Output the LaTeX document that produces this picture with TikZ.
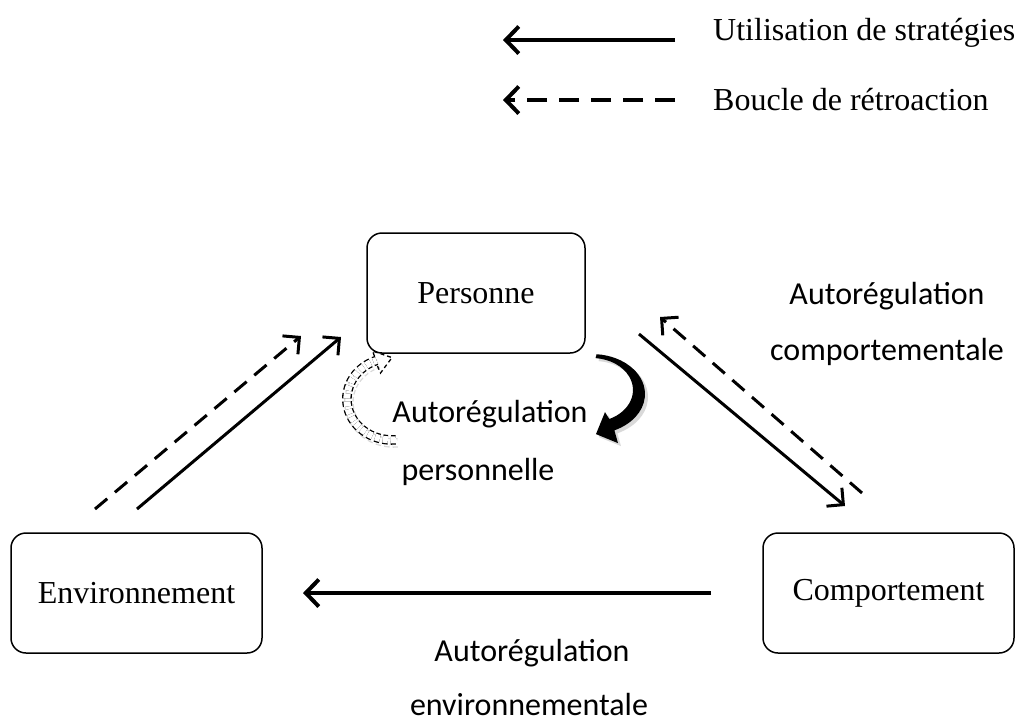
\documentclass[tikz,border=0pt]{standalone}
\usepackage{fontspec}
\setmainfont{Liberation Serif}
\newfontfamily\calib{Carlito}
\usetikzlibrary{arrows.meta}
\begin{document}
\begin{tikzpicture}[x=1pt,y=-1pt,
  boxnode/.style={draw,line width=1.5pt,rounded corners=15pt,minimum width=#1,minimum height=120pt,inner sep=0pt,font=\fontsize{32}{38}\selectfont},
  lbl/.style={font=\calib\fontsize{32}{38}\selectfont,inner sep=0pt},
  leg/.style={font=\fontsize{32}{38}\selectfont,anchor=west,inner sep=0pt},
  barb/.style={-{Straight Barb[length=13pt,width=27pt]}},
  solidarr/.style={-{Straight Barb[length=12pt,width=24pt]},line width=3pt},
  dasharr/.style={-{Straight Barb[length=12pt,width=24pt]},line width=3pt,dash pattern=on 16pt off 10pt},
]
\useasboundingbox (0,0) rectangle (1019,724);

% legend
\coordinate (l1a) at (675,40); \coordinate (l1b) at (503,40);
\coordinate (l2a) at (675,100); \coordinate (l2b) at (503,100);
\draw[barb,line width=4pt] (l1a) -- (l1b);
\draw[barb,line width=4pt,dash pattern=on 20pt off 12pt] (l2a) -- (l2b);
\node[leg] (t1) at (713,33) {Utilisation de stratégies};
\node[leg] (t2) at (713,100) {Boucle de rétroaction};

% boxes
\node[boxnode=218pt] (pers) at (476,293) {Personne};
\node[boxnode=251pt] (env) at (136.5,593) {Environnement};
\node[boxnode=251pt] (comp) at (888.5,593) {Comportement};

% labels
\node[lbl] (a1) at (887,296) {Autorégulation};
\node[lbl] (a2) at (887,352) {comportementale};
\node[lbl] (b1) at (490,414) {Autorégulation};
\node[lbl] (b2) at (478,472) {personnelle};
\node[lbl,anchor=base] (c1) at (532,661) {Autorégulation};
\node[lbl,anchor=base,text depth=0pt] (c2) at (529,715) {environnementale};

% straight arrows
\coordinate (e1s) at (137,509); \coordinate (e1t) at (341,337);
\coordinate (e2s) at (95,509);  \coordinate (e2t) at (301,336);
\draw[solidarr] (e1s) -- (e1t);
\draw[dasharr] (e2s) -- (e2t);

\coordinate (p1s) at (639,334); \coordinate (p1t) at (845,506);
\coordinate (p2s) at (862,493); \coordinate (p2t) at (660,317);
\draw[solidarr] (p1s) -- (p1t);
\draw[dasharr] (p2s) -- (p2t);

\coordinate (bs) at (711,593); \coordinate (bt) at (303,593);
\draw[barb,line width=4pt] (bs) -- (bt);

% black curved arrow (personal self-regulation)
\coordinate (k0) at (596.6,354.2);
\coordinate (k1) at (609.3,419.0);
\fill[gray!30] ([shift={(3,3)}]k0) arc[start angle=-85,end angle=65,x radius=53,y radius=40]
  -- ++(3.6,12.8) -- ++(-22,-9) -- ++(9,-22) -- ([shift={(3,3)}]k1)
  arc[start angle=65,end angle=-85,x radius=41,y radius=32] -- cycle;
\fill[black] (k0) arc[start angle=-85,end angle=65,x radius=53,y radius=40]
  -- ++(3.6,12.8) -- ++(-22,-9) -- ++(9,-22) -- (k1)
  arc[start angle=65,end angle=-85,x radius=41,y radius=32] -- cycle;

% dashed curved arrow (outline)
\coordinate (d0) at (395.8,439.8);
\draw[gray!30,line width=1.3pt,double=white,double distance=7pt,dash pattern=on 5pt off 3pt] ([shift={(2,3)}]d0)
  arc[start angle=85,end angle=250,x radius=45,y radius=41];
\draw[line width=1.3pt,double=white,double distance=7pt,dash pattern=on 5pt off 3pt] (d0)
  arc[start angle=85,end angle=250,x radius=45,y radius=41] coordinate (dend);
\draw[line width=1.3pt,dash pattern=on 4pt off 3pt] (377.5,366) -- (380.5,373) -- (392,357.6) -- (372.5,351) -- (375,357.5);
\end{tikzpicture}
\end{document}
